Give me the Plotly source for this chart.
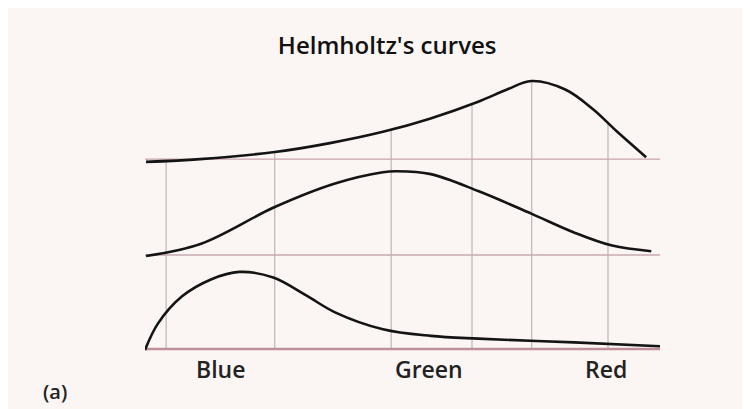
"""
Helmholtz's curves - three stacked sensitivity curves
"""
import numpy as np
import plotly.graph_objects as go

# position along the spectrum (0 = blue end, 100 = red end)
top_x = [0.2, 10.7, 25.2, 35.9, 46.2, 55.3, 64.7, 70.3, 75.0, 81.6, 87.0, 91.7, 97.3]
top_y = [-0.03, 0.0, 0.075, 0.17, 0.29, 0.43, 0.61, 0.74, 0.83, 0.74, 0.53, 0.29, 0.02]

mid_x = [0.2, 10.9, 25.2, 36.9, 46.2, 48.9, 55.5, 64.7, 75.0, 83.3, 90.7, 98.3]
mid_y = [-0.01, 0.12, 0.51, 0.76, 0.88, 0.89, 0.86, 0.68, 0.44, 0.24, 0.10, 0.04]

low_x = [0.0, 2.5, 7.2, 12.8, 18.3, 24.9, 31.3, 36.9, 46.2, 55.5, 64.7, 83.3, 100.0]
low_y = [-0.01, 0.27, 0.56, 0.74, 0.82, 0.76, 0.57, 0.39, 0.21, 0.14, 0.11, 0.07, 0.03]

grid_x = [4.1, 25.2, 47.8, 63.5, 75.1, 89.9]

spectrum_labels = ["Blue", "Green", "Red"]
label_x = [14.6, 55.1, 89.5]

# vertical stacking of the three curves
offsets = {"low": 0.0, "mid": 1.0, "top": 2.02}
x_span = [0, 100]

BG = "#fbf6f4"
INK = "#141414"
FONT = "Open Sans, DejaVu Sans, sans-serif"

fig = go.Figure()

# vertical guide lines, from bottom baseline up to the top curve
gx, gy = [], []
for v in grid_x:
    gx += [v, v, None]
    gy += [offsets["low"], offsets["top"] + float(np.interp(v, top_x, top_y)), None]
fig.add_trace(go.Scatter(x=gx, y=gy, mode="lines",
                         line=dict(color="#b9a4aa", width=1), hoverinfo="skip"))

# baselines
for key, col, w in [("top", "#c9a3ad", 1.3), ("mid", "#c9a8b0", 1.3), ("low", "#bf8f9a", 2.6)]:
    fig.add_trace(go.Scatter(x=x_span, y=[offsets[key]] * 2, mode="lines",
                             line=dict(color=col, width=w), hoverinfo="skip"))

# the three curves
for xs, ys, key in [(top_x, top_y, "top"), (mid_x, mid_y, "mid"), (low_x, low_y, "low")]:
    fig.add_trace(go.Scatter(x=xs, y=[v + offsets[key] for v in ys], mode="lines",
                             line=dict(color=INK, width=2.6, shape="spline", smoothing=1.0),
                             hoverinfo="skip"))

# spectrum labels under the bottom curve
for name, xv in zip(spectrum_labels, label_x):
    fig.add_annotation(x=xv, y=-0.03, xref="x", yref="paper", text=name, showarrow=False,
                       xanchor="center", yanchor="middle",
                       font=dict(family=FONT, size=23, color="#222222", weight=600))

fig.add_annotation(x=-0.175, y=-0.105, xref="paper", yref="paper", text="(a)",
                   showarrow=False, xanchor="center", yanchor="middle",
                   font=dict(family=FONT, size=20, color="#222222", weight=600))

# page body adds an 8px margin, so the figure is a little smaller than the window
fig.update_layout(
    width=742, height=401,
    margin=dict(l=137, r=90, t=52, b=49),
    paper_bgcolor=BG, plot_bgcolor=BG,
    showlegend=False,
    title=dict(text="Helmholtz's curves", x=0.511, y=0.905, xanchor="center", yanchor="middle",
               font=dict(family=FONT, size=24, color="#111111", weight=600)),
    xaxis=dict(range=[0, 100], visible=False),
    yaxis=dict(range=[-0.117, 3.074], visible=False),
)

fig.write_html("out.html")
